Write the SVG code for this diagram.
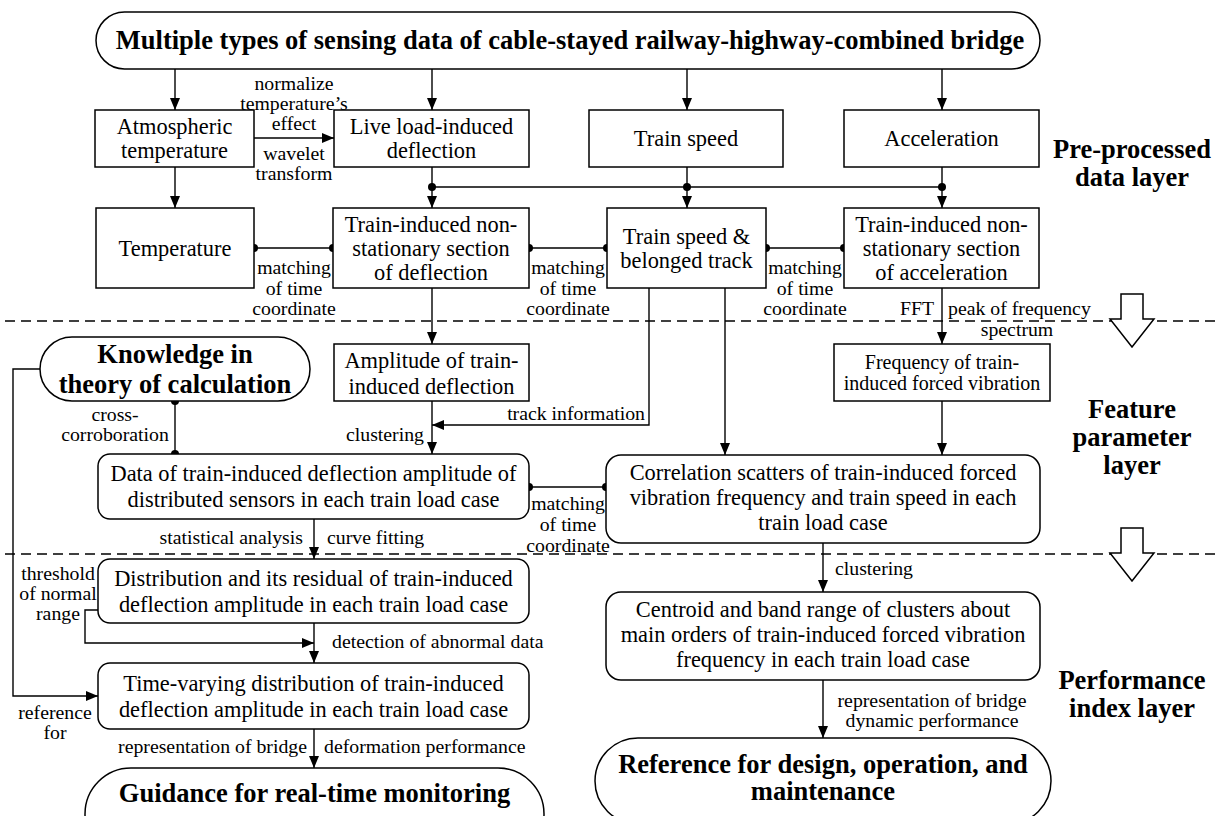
<svg xmlns="http://www.w3.org/2000/svg" width="1218" height="816" viewBox="0 0 1218 816">
<defs>
<marker id="ah" markerUnits="userSpaceOnUse" markerWidth="12" markerHeight="10" refX="12" refY="5" orient="auto"><path d="M0,0 L12,5 L0,10 Z" fill="#000"/></marker>
<style>
rect,.hollow{fill:#fff;stroke:#000;stroke-width:1.5}
text{font-family:"Liberation Serif","Times New Roman",serif;fill:#000}
.t{font-size:22.4px;text-anchor:middle}
.s{font-size:20px;text-anchor:middle}
.b{font-size:26.5px;font-weight:bold;text-anchor:middle}
.l{font-size:19.8px}
.m{text-anchor:middle}
.e{text-anchor:end}
.ln{fill:none;stroke:#000;stroke-width:1.4}
.a{marker-end:url(#ah)}
.dash{fill:none;stroke:#000;stroke-width:1.3;stroke-dasharray:10 6}
.dot{fill:#000}
</style>
</defs>
<rect width="1218" height="816" style="fill:#fff;stroke:none"/>
<g id="layers">
<path class="dash" d="M5,321 H1218"/>
<path class="dash" d="M5,554 H1218"/>
<polygon class="hollow" points="1121,294 1143,294 1143,319 1154,319 1132,347 1110,319 1121,319"/>
<polygon class="hollow" points="1121,528 1143,528 1143,553 1154,553 1132,581 1110,553 1121,553"/>
<text class="b" x="1132" y="158">Pre-processed</text>
<text class="b" x="1132" y="186">data layer</text>
<text class="b" x="1132" y="418">Feature</text>
<text class="b" x="1132" y="446">parameter</text>
<text class="b" x="1132" y="474">layer</text>
<text class="b" x="1132" y="689">Performance</text>
<text class="b" x="1132" y="717">index layer</text>
</g>
<g id="connectors">
<path class="ln a" d="M175,69 V110"/>
<path class="ln a" d="M432,69 V110"/>
<path class="ln a" d="M687,69 V110"/>
<path class="ln a" d="M942,69 V110"/>
<path class="ln a" d="M254,138 H334"/>
<path class="ln a" d="M175,167 V208"/>
<path class="ln a" d="M432,167 V208"/>
<path class="ln a" d="M687,167 V208"/>
<path class="ln a" d="M942,167 V208"/>
<path class="ln" d="M432,187 H942"/>
<path class="ln" d="M254,248 H333 M529,248 H607 M766,248 H844"/>
<path class="ln a" d="M432,288 V344"/>
<path class="ln a" d="M942,288 V344"/>
<path class="ln a" d="M649,288 V425 H432"/>
<path class="ln a" d="M725,288 V455"/>
<path class="ln a" d="M942,401 V455"/>
<path class="ln a" d="M432,401 V454"/>
<path class="ln" d="M175,401 V454"/>
<path class="ln" d="M529,487 H606"/>
<path class="ln a" d="M40,369 H13 V696 H98"/>
<path class="ln a" d="M314,519 V559"/>
<path class="ln a" d="M98,610 H85 V643 H314"/>
<path class="ln a" d="M314,623 V663"/>
<path class="ln a" d="M314,729 V768"/>
<path class="ln a" d="M823,543 V592"/>
<path class="ln a" d="M823,680 V738"/>
<g class="dot">
<circle cx="432" cy="187" r="4"/><circle cx="687" cy="187" r="4"/><circle cx="942" cy="187" r="4"/>
<circle cx="254" cy="248" r="4"/><circle cx="333" cy="248" r="4"/>
<circle cx="529" cy="248" r="4"/><circle cx="607" cy="248" r="4"/>
<circle cx="766" cy="248" r="4"/><circle cx="844" cy="248" r="4"/>
<circle cx="175" cy="401" r="4"/><circle cx="175" cy="454" r="4"/>
<circle cx="529" cy="487" r="4"/><circle cx="606" cy="487" r="4"/>
</g>
<g class="l">
<text class="m" x="294" y="90">normalize</text>
<text class="m" x="294" y="110">temperature’s</text>
<text class="m" x="294" y="130">effect</text>
<text class="m" x="294" y="160">wavelet</text>
<text class="m" x="294" y="180">transform</text>
<text class="m" x="294" y="274">matching</text>
<text class="m" x="294" y="294.5">of time</text>
<text class="m" x="294" y="315">coordinate</text>
<text class="m" x="568" y="274">matching</text>
<text class="m" x="568" y="294.5">of time</text>
<text class="m" x="568" y="315">coordinate</text>
<text class="m" x="805" y="274">matching</text>
<text class="m" x="805" y="294.5">of time</text>
<text class="m" x="805" y="315">coordinate</text>
<text class="e" x="934" y="315">FFT</text>
<text x="948" y="315">peak of frequency</text>
<text class="m" x="1017" y="336">spectrum</text>
<text class="m" x="115" y="421">cross-</text>
<text class="m" x="115" y="441">corroboration</text>
<text class="e" x="424" y="441">clustering</text>
<text class="e" x="645" y="420">track information</text>
<text class="m" x="568" y="510">matching</text>
<text class="m" x="568" y="531">of time</text>
<text class="m" x="568" y="552">coordinate</text>
<text class="e" x="303" y="544">statistical analysis</text>
<text x="327" y="544">curve fitting</text>
<text class="m" x="58" y="580">threshold</text>
<text class="m" x="58" y="600">of normal</text>
<text class="m" x="58" y="620">range</text>
<text x="332" y="648">detection of abnormal data</text>
<text class="m" x="55" y="719">reference</text>
<text class="m" x="55" y="739">for</text>
<text class="e" x="307" y="753">representation of bridge</text>
<text x="324" y="753">deformation performance</text>
<text x="835" y="575">clustering</text>
<text class="m" x="932" y="707">representation of bridge</text>
<text class="m" x="932" y="727">dynamic performance</text>
</g>
</g>
<g id="n-title"><rect x="96" y="12" width="944" height="57" rx="28.5"/><text class="b" x="570" y="49">Multiple types of sensing data of cable-stayed railway-highway-combined bridge</text></g>
<g id="n-atm"><rect x="95" y="110" width="159" height="57"/><text class="t" x="174.5" y="134">Atmospheric</text><text class="t" x="174.5" y="158">temperature</text></g>
<g id="n-live"><rect x="334" y="110" width="195" height="57"/><text class="t" x="431.5" y="134">Live load-induced</text><text class="t" x="431.5" y="158">deflection</text></g>
<g id="n-speed"><rect x="589" y="110" width="194" height="57"/><text class="t" x="686" y="146">Train speed</text></g>
<g id="n-acc"><rect x="844" y="110" width="195" height="57"/><text class="t" x="941.5" y="146">Acceleration</text></g>
<g id="n-temp"><rect x="96" y="208" width="158" height="80"/><text class="t" x="175" y="256">Temperature</text></g>
<g id="n-defsec"><rect x="333" y="208" width="196" height="80"/><text class="t" x="431" y="232">Train-induced non-</text><text class="t" x="431" y="256">stationary section</text><text class="t" x="431" y="280">of deflection</text></g>
<g id="n-track"><rect x="607" y="208" width="159" height="80"/><text class="t" x="686.5" y="244">Train speed &amp;</text><text class="t" x="686.5" y="268">belonged track</text></g>
<g id="n-accsec"><rect x="844" y="208" width="195" height="80"/><text class="t" x="941.5" y="232">Train-induced non-</text><text class="t" x="941.5" y="256">stationary section</text><text class="t" x="941.5" y="280">of acceleration</text></g>
<g id="n-knowledge"><rect x="40" y="337" width="270" height="64" rx="32"/><text class="b" x="175" y="363">Knowledge in</text><text class="b" x="175" y="393">theory of calculation</text></g>
<g id="n-amp"><rect x="334" y="344" width="195" height="57"/><text class="t" x="431.5" y="367.5">Amplitude of train-</text><text class="t" x="431.5" y="393.5">induced deflection</text></g>
<g id="n-freq"><rect x="834" y="344" width="216" height="57"/><text class="s" x="942" y="369">Frequency of train-</text><text class="s" x="942" y="390">induced forced vibration</text></g>
<g id="n-data"><rect x="98" y="454" width="431" height="65" rx="12"/><text class="t" x="313.5" y="481">Data of train-induced deflection amplitude of</text><text class="t" x="313.5" y="507">distributed sensors in each train load case</text></g>
<g id="n-corr"><rect x="606" y="455" width="434" height="88" rx="15"/><text class="t" x="823" y="480">Correlation scatters of train-induced forced</text><text class="t" x="823" y="505">vibration frequency and train speed in each</text><text class="t" x="823" y="530">train load case</text></g>
<g id="n-dist"><rect x="98" y="559" width="431" height="64" rx="12"/><text class="t" x="313.5" y="585.5">Distribution and its residual of train-induced</text><text class="t" x="313.5" y="611.5">deflection amplitude in each train load case</text></g>
<g id="n-centroid"><rect x="606" y="592" width="434" height="88" rx="15"/><text class="t" x="823" y="617">Centroid and band range of clusters about</text><text class="t" x="823" y="642">main orders of train-induced forced vibration</text><text class="t" x="823" y="667">frequency in each train load case</text></g>
<g id="n-timevar"><rect x="98" y="663" width="431" height="66" rx="12"/><text class="t" x="313.5" y="690.5">Time-varying distribution of train-induced</text><text class="t" x="313.5" y="716.5">deflection amplitude in each train load case</text></g>
<g id="n-guidance"><rect x="85" y="768" width="459" height="92" rx="46"/><text class="b" x="314.5" y="802">Guidance for real-time monitoring</text></g>
<g id="n-reference"><rect x="595" y="738" width="456" height="86" rx="43"/><text class="b" x="823" y="773">Reference for design, operation, and</text><text class="b" x="823" y="800">maintenance</text></g>
</svg>
